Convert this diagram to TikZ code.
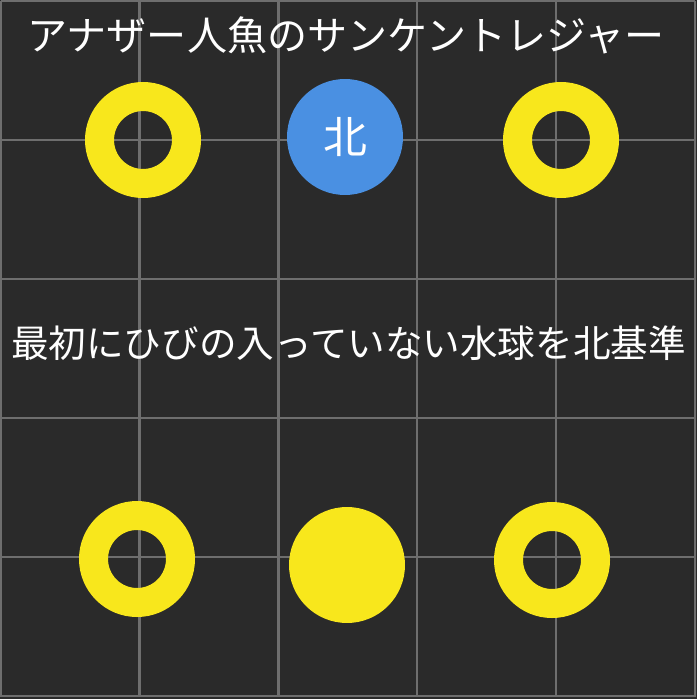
\documentclass[tikz,border=0pt]{standalone}
\usepackage{fontspec}
\setmainfont{Noto Sans CJK JP}
\definecolor{bgdark}{HTML}{2A2A2A}
\definecolor{gridgray}{HTML}{6E6E6E}
\definecolor{orbyellow}{HTML}{F8E71C}
\definecolor{northblue}{HTML}{4A90E2}
\tikzset{
  crackorb/.style={circle, draw=orbyellow, line width=0.58cm, minimum size=1.74cm, inner sep=0pt},
  wholeorb/.style={circle, fill=orbyellow, minimum size=2.32cm, inner sep=0pt},
  northorb/.style={circle, fill=northblue, minimum size=2.32cm, inner sep=0pt,
                   text=white, font=\fontsize{25}{29}\selectfont},
  caption/.style={text=white, inner sep=0pt, font=\fontsize{22.8}{27}\selectfont}
}
\begin{document}
\begin{tikzpicture}[x=0.02cm, y=-0.02cm]
            \fill[bgdark] (0,0) rectangle (697,699);
            \useasboundingbox (0,0) rectangle (697,699);
            % grid
            \foreach \k in {0,...,5} {
              \draw[gridgray, line width=0.045cm] ({0.8+138.8*\k},1) -- ({0.8+138.8*\k},696.5);
              \draw[gridgray, line width=0.045cm] (0.8,{1.2+139*\k}) -- (694.8,{1.2+139*\k});
            }
            \node[caption] (title) at (346,35) {アナザー人魚のサンケントレジャー};
            \node[caption, font=\fontsize{21.4}{25}\selectfont] (rule) at (348.5,343) {最初にひびの入っていない水球を北基準};

            \node[crackorb] (orbNW) at (143,140) {};
            \node[northorb] (north) at (345,137) {北};
            \node[crackorb] (orbNE) at (561,140) {};
            \node[crackorb] (orbSW) at (137,559) {};
            \node[wholeorb] (orbS) at (347,565) {};
            \node[crackorb] (orbSE) at (552,560) {};
        \end{tikzpicture}
\end{document}
